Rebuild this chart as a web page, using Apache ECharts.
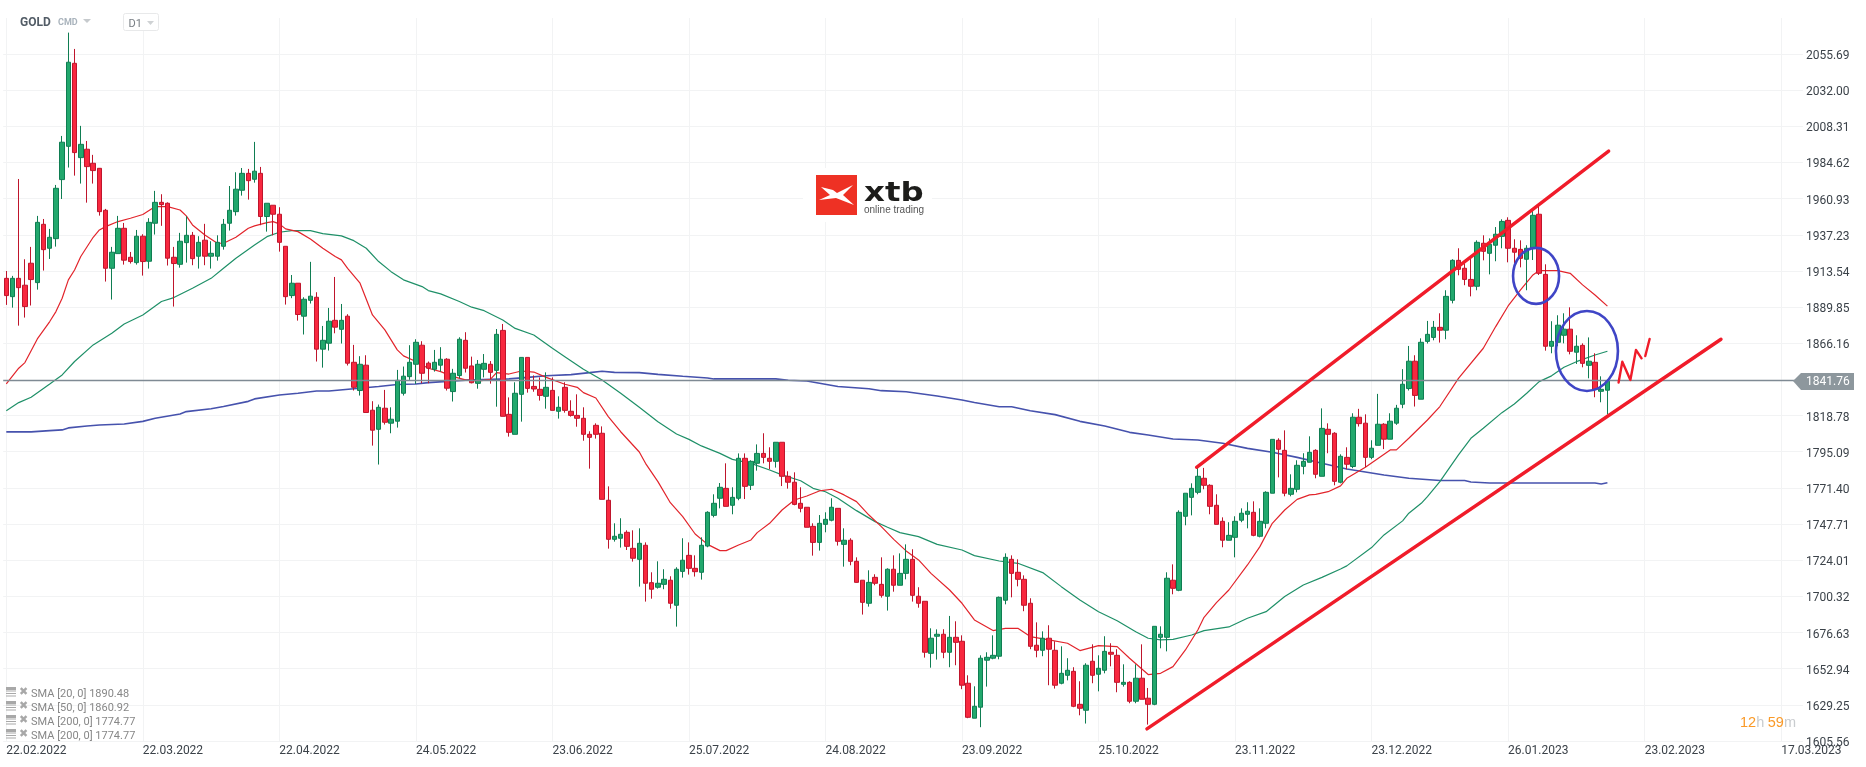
<!DOCTYPE html>
<html lang="en">
<head>
  <meta charset="UTF-8">
  <title>GOLD D1</title>
  <style>
    html, body { margin: 0; padding: 0; background: #fff; }
    #main { width: 1866px; height: 767px; }
  </style>
</head>
<body>
<div id="main"></div>
<script src="https://cdn.jsdelivr.net/npm/echarts@6/dist/echarts.min.js"></script>
<script>
  // date labels sit every 22 candles
  const dateLabels = ['22.02.2022','22.03.2022','22.04.2022','24.05.2022','23.06.2022','25.07.2022','24.08.2022',
    '23.09.2022','25.10.2022','23.11.2022','23.12.2022','26.01.2023','23.02.2023','17.03.2023'];
  const yTicks = [2055.69,2032.00,2008.31,1984.62,1960.93,1937.23,1913.54,1889.85,1866.16,1818.78,1795.09,
    1771.40,1747.71,1724.01,1700.32,1676.63,1652.94,1629.25,1605.56];
  const lastPrice = 1841.76;

  const opens = [1908.7,1896.7,1908.7,1904.2,1918.6,1905.9,1944.1,1928.4,1934.7,1973.4,
    1995.2,2049.6,1987.8,1993.3,1984.1,1980.8,1953.3,1915.3,1924.9,1941.5,
    1922.5,1919,1936.3,1919.9,1944.8,1958.5,1957.9,1922.5,1917.9,1932.1,
    1936.9,1923.2,1933.7,1923.2,1923.2,1929.7,1944.8,1952.4,1966.4,1977.5,
    1973.6,1977.5,1949.2,1956.6,1950.7,1929.7,1897.4,1905.5,1883.9,1894.3,
    1896.3,1862.3,1866.2,1881.2,1875.3,1883.9,1853.7,1835.2,1851.8,1822.3,
    1809.8,1823.6,1813.8,1815.1,1833.4,1844.3,1852.4,1864.9,1853.1,1849.1,
    1851.8,1855.7,1834.5,1845,1868.1,1851.3,1839.9,1849.1,1852.4,1848.4,
    1874.6,1819.6,1806.5,1832.7,1856.9,1837.9,1836,1831.4,1835.3,1821.6,
    1837.3,1821.6,1818.9,1817,1806.5,1812.4,1807.2,1763.3,1737.7,1738.4,
    1742.3,1731.8,1724.6,1733.8,1709.3,1706.3,1708.2,1710.9,1694.5,1716.7,
    1727.2,1718.7,1716.1,1733.3,1753.4,1764.6,1771.1,1760,1764.6,1790.8,
    1773.1,1787.5,1794,1790.8,1788.8,1801.3,1779,1775.1,1761.3,1758.7,
    1746.2,1735.7,1747.5,1750.2,1758,1734.4,1737.1,1723.3,1710.9,1695.8,
    1712.8,1708.2,1700.4,1718.1,1707.6,1715.4,1724.6,1700.4,1697.1,1663,
    1674.2,1675.5,1663.7,1673.5,1670.9,1643.4,1620.5,1627.7,1658.5,1659.8,
    1661.1,1697.8,1724.6,1716.1,1711.5,1695.8,1668.3,1665,1672.9,1665,
    1643.4,1648.6,1651.2,1629.6,1625.7,1657.8,1649.3,1651.9,1663.7,1661.7,
    1642.7,1644,1631.6,1646.7,1633.6,1629.6,1673.5,1673.5,1710.9,1704.3,
    1752.8,1765.2,1768.5,1777.7,1773.1,1760,1749.5,1737.1,1739,1750.2,
    1754.1,1755.4,1739.7,1748.2,1767.9,1802.6,1796,1767.2,1770.5,1785.5,
    1788.2,1796,1779,1809.8,1807.2,1775.1,1791.4,1785.4,1817.7,1813.8,
    1791.4,1799.3,1813.1,1803.3,1813.8,1826.2,1836.5,1854.4,1829.5,1867.4,
    1870,1876.6,1874.7,1894.3,1920.5,1915.3,1908,1903.5,1931.7,1925.1,
    1930.4,1936.2,1946.7,1928.4,1927.7,1921.2,1928.4,1950.7,1911.3,1864.2,
    1866.8,1871.4,1875.4,1860.3,1864.8,1851.7,1853.7,1834.7,1835.4];

  const closes = [1897.4,1908.7,1902.6,1890.2,1907.9,1945.4,1927.5,1935.6,1967.7,1997.9,
    2050.3,1991.1,1996.5,1981.9,1979.3,1952.4,1915.3,1925.8,1941.5,1920.6,
    1919.7,1936.3,1919.7,1945.4,1958.5,1957,1921.9,1918.4,1933,1936.9,
    1921.6,1932.3,1923.2,1925.1,1932.3,1944.1,1953.3,1967.1,1977.5,1972.7,
    1978.9,1949.2,1957.9,1950.7,1932.3,1896.7,1905.5,1885,1895,1897,
    1862.3,1868.1,1880.6,1876.7,1881.2,1853.1,1837.3,1852.4,1820.8,1809.2,
    1824.2,1814.4,1816.4,1841.9,1844.6,1853.7,1866.8,1846.5,1849.8,1853.7,
    1855.7,1836.7,1846.5,1868.8,1849.8,1840.3,1852.4,1853,1847.1,1872,
    1818.3,1807.8,1833.4,1856.9,1836.6,1836.2,1832,1837.3,1822.2,1824.2,
    1822.2,1818.9,1817,1806.5,1804.5,1806.5,1763.9,1737.7,1739.7,1741,
    1733.1,1725.3,1735.1,1708.9,1705,1708.9,1711.5,1695.8,1718.1,1724,
    1718.7,1716.5,1733.8,1755.4,1761.3,1771.8,1759.3,1765.2,1790.8,1772.4,
    1788.8,1794,1791.4,1788.8,1801.3,1779,1775.1,1760.6,1758,1745.6,
    1735.7,1748.2,1750.8,1758.7,1736.4,1737.1,1723.3,1709.5,1696.4,1709.5,
    1708.9,1701,1718.1,1707.6,1715.4,1724.6,1701,1695.8,1663.7,1672.9,
    1675.5,1663.7,1673.5,1670.2,1642.1,1621.1,1628.3,1659.8,1660.4,1661.7,
    1699.7,1725.9,1715.4,1711.5,1694.5,1667.6,1665,1672.9,1665.7,1642.1,
    1649.9,1651.9,1628.3,1627,1655.2,1648.6,1653.2,1664.3,1662.4,1644,
    1644,1631.6,1646.7,1632.9,1629.6,1680.7,1675.5,1712.2,1705.6,1755.4,
    1767.9,1771.1,1779,1773.1,1759.3,1747.5,1737.1,1740.3,1749.5,1754.8,
    1756.1,1740.3,1749.5,1768.5,1803.2,1796.7,1767.9,1771.1,1786.2,1788.8,
    1794.7,1780.3,1810.4,1806.5,1775.7,1792.1,1786.9,1817.7,1813.5,1791.4,
    1797.4,1813.1,1803.3,1815.1,1823.6,1839.3,1854.4,1832,1866.8,1872,
    1876.6,1874.7,1896.9,1920.5,1914.6,1908,1903.5,1932.3,1926.4,1931,
    1937.6,1946,1928.4,1925.8,1921.8,1928.4,1950,1912,1864.2,1867.4,
    1878,1875.4,1860.9,1864.2,1853,1854.4,1836,1836,1841.76];

  const highs = [1913.5,1910.3,1973.8,1921.2,1929.3,1949.6,1947.6,1941.1,1969.9,2002,
    2069.7,2059,2008.6,1998.7,1989.6,1981,1954.2,1929.3,1949.6,1945,
    1926,1940.4,1937.6,1948.1,1966,1963.8,1958.5,1929.3,1938.5,1949.4,
    1939.1,1936.3,1944.4,1933,1936.9,1947.6,1969.2,1978.2,1981,1980.4,
    1998.1,1981.7,1957.9,1956.6,1955.3,1929.7,1910.9,1905.5,1896.3,1919.5,
    1899.6,1877.5,1889.3,1909.6,1891.9,1885.2,1865.1,1857.7,1858.3,1828.2,
    1826,1835.6,1824.2,1848.7,1850.9,1864.9,1868.8,1867.5,1854.2,1861.8,
    1863.6,1856.4,1849.4,1870.1,1873.4,1857.4,1855.2,1859.1,1854.5,1875.5,
    1878.8,1830.7,1840.6,1856.9,1856.9,1845.1,1843.8,1847.1,1843.8,1831.4,
    1840.6,1828.8,1832.7,1824.2,1808.5,1813.7,1811.7,1772.4,1748.2,1751.5,
    1743.6,1743.6,1744.9,1735.7,1716.1,1723.3,1718.1,1713.5,1719.4,1738.4,
    1735.7,1727.2,1739,1756.1,1767.2,1774.6,1787.5,1771.8,1794,1794,
    1789.5,1799.9,1807.2,1798,1801.3,1801.3,1782.3,1781.6,1771.8,1758.7,
    1748.2,1753.6,1755.4,1764.6,1758,1744.9,1738.4,1725.9,1710.9,1717.4,
    1714.8,1725.9,1718.7,1727.2,1728.5,1734.4,1731.2,1706.3,1697.1,1679.4,
    1678.7,1678.8,1687.5,1684,1674.8,1648.6,1641.4,1661.7,1663.7,1674.8,
    1700.2,1728.5,1727.2,1724.6,1714.1,1699.1,1683.3,1677.4,1681.4,1670.9,
    1667.6,1659.8,1653.9,1644.7,1656.5,1668.9,1661.7,1674.2,1669.6,1665.7,
    1655.8,1644.7,1655.8,1668.9,1640.3,1680.7,1680.7,1716.1,1721.3,1756.7,
    1767.9,1774.4,1784.9,1784.5,1773.8,1767.2,1752.1,1748.9,1752.8,1758,
    1762,1762.6,1758,1769.2,1803.2,1803.9,1809.1,1780.3,1789.5,1794.1,
    1805.2,1796.7,1823.5,1813.7,1807.9,1793.4,1798,1820.3,1823.2,1819.6,
    1802.6,1833,1813.8,1820.3,1825.8,1849.2,1864.4,1858.3,1869.4,1880.8,
    1880.8,1885.8,1900.9,1921.2,1928.4,1918.6,1921.8,1933.6,1936.9,1934.9,
    1942.3,1947.4,1948.7,1934.3,1933.6,1930.4,1953.9,1957.9,1917.9,1880.6,
    1884.5,1885.8,1889.7,1871.4,1866.1,1870,1859.6,1844.5,1842.6];

  const lows = [1891.3,1889.5,1877.7,1883,1890.9,1901.3,1913.8,1921.4,1929.5,1960.7,
    1981.3,1976,1970.8,1958.3,1970.8,1949.8,1906.6,1894.8,1924.9,1917.7,
    1918.4,1917.7,1910.5,1915.1,1937.4,1943.1,1917.1,1890.2,1915.7,1919,
    1917.3,1915.1,1917.3,1915.1,1920.3,1927.5,1940,1949.8,1962.9,1960.3,
    1971.4,1943.5,1939.3,1936.9,1926.2,1891.5,1895.7,1881,1871.9,1892.2,
    1854.2,1850.2,1861.4,1872.7,1866,1851.6,1835.2,1831.9,1820.8,1799.1,
    1786.7,1812.9,1807.2,1810.9,1831.9,1842.2,1839.5,1840,1840,1847.6,
    1847.6,1835.2,1828,1843.3,1847,1839.9,1836.4,1843.8,1839.7,1824.6,
    1818.3,1805,1806.5,1814.8,1833.8,1834.4,1828.6,1823.3,1822.2,1816.8,
    1820.7,1818.1,1811.5,1802.3,1784,1803.7,1763.9,1731.6,1736.2,1732.3,
    1730.7,1723.1,1706.7,1696.9,1698.8,1705.4,1705,1692.3,1680.5,1712.6,
    1714.6,1713.3,1711.3,1732.5,1752.1,1758,1759.3,1754.1,1763.3,1764.1,
    1770,1782.7,1787.5,1783.6,1784.7,1772.6,1770.9,1760,1755.4,1745.6,
    1727,1730.3,1742.3,1749.5,1733.6,1719.8,1720.7,1709.3,1688.4,1693.6,
    1707.6,1699.5,1691,1703.4,1707.6,1711.5,1696.9,1692.9,1660.2,1653.6,
    1658.9,1659.8,1653.9,1655.2,1639.5,1620.5,1620.5,1614.6,1641.2,1659.1,
    1659.1,1695.1,1699.7,1706.9,1690.6,1665.7,1660.4,1661.1,1642.1,1639.9,
    1642.7,1645.3,1627.7,1622.4,1617,1643.4,1638.1,1649.9,1654.5,1637.5,
    1641.2,1630.3,1630.3,1632.9,1616.3,1629,1666.3,1664.3,1701.7,1703.7,
    1746.9,1753.4,1767.2,1770.5,1754.1,1747.5,1732.5,1737.1,1725.9,1748.9,
    1744.9,1739.7,1739,1744.9,1767.9,1778.3,1765.9,1765.9,1768.5,1780.3,
    1788.2,1777.7,1779,1794.1,1773.1,1774.4,1783.6,1784.3,1811.6,1785,
    1790.2,1799.3,1796.8,1803.3,1812.7,1823.6,1835.2,1824.7,1829.5,1866,
    1868.1,1866.6,1868.8,1892.3,1910.7,1904.2,1896.9,1900.9,1920.5,1911.3,
    1919.9,1928.4,1919.2,1918.6,1915.9,1900.9,1920.7,1910.9,1861.3,1859.6,
    1864.2,1866.1,1858.9,1852.6,1850.4,1843.2,1830.8,1827.5,1819.6];

  // moving averages, [candle index, price] read where the curve bends
  const sma20 = [[0,1839.5],[2,1849.8],[3,1853.5],[5,1869],[7,1880.4],[8,1886.9],[9,1895.7],[10,1907.7],[11,1914.2],[12,1923],
    [14,1935.6],[15,1940.4],[16,1942.6],[18,1945.9],[20,1948.1],[22,1950.5],[24,1955.7],[26,1955.7],[28,1953.5],[29,1949.6],
    [30,1943.7],[32,1937.1],[34,1931.7],[35,1931.7],[37,1935.6],[39,1941.5],[40,1943.1],[42,1945.2],[43,1945.9],[44,1944.4],
    [45,1941.1],[47,1939.3],[49,1934.5],[51,1928.4],[53,1923],[54,1920.8],[55,1915.3],[57,1905.5],[59,1884.7],[61,1874.9],
    [63,1861.8],[64,1857.9],[66,1854.2],[68,1849.8],[70,1847.6],[72,1844.3],[74,1842.2],[76,1841.4],[78,1842.5],[79,1846.9],
    [81,1846],[83,1848],[85,1847.3],[87,1843.8],[90,1839.3],[92,1837.3],[93,1833.8],[95,1830.3],[97,1818.1],[99,1808.2],
    [102,1794.9],[103,1787.5],[105,1775.5],[107,1761.7],[109,1752.6],[111,1741.2],[113,1734.4],[115,1730.3],[116,1730.3],[118,1734],
    [120,1737.3],[121,1742.1],[123,1748.2],[125,1756.9],[127,1763.5],[129,1766.1],[131,1769.4],[133,1770.5],[135,1766.8],[137,1762.4],
    [139,1753.6],[141,1746],[143,1737.7],[145,1730.1],[147,1724.2],[149,1715.4],[152,1704.5],[154,1695.8],[156,1684.9],[159,1677.9],
    [161,1679.4],[163,1679.4],[165,1674],[168,1671.8],[171,1669.6],[173,1664.8],[176,1668.1],[179,1667.4],[181,1659.8],[184,1649.1],
    [186,1649.9],[188,1654.3],[190,1665.2],[192,1678.3],[193,1686.6],[195,1696.2],[197,1704.5],[200,1720.9],[202,1732.9],[204,1748.2],
    [206,1756.9],[208,1763.9],[210,1766.8],[211,1767.2],[213,1768.9],[215,1772.7],[216,1777.7],[219,1784.9],[223,1796.3],[224,1796.3],
    [226,1803.9],[229,1815.9],[231,1824.7],[234,1843.2],[238,1862.9],[240,1877.1],[242,1890.6],[244,1901.1],[246,1910.9],[247,1913.8],
    [250,1913.8],[252,1912],[254,1904.4],[256,1897.8],[258,1890.48]];

  const sma50 = [[0,1822],[2,1827.3],[4,1830.8],[7,1839.5],[9,1845.4],[11,1854.2],[14,1865.1],[17,1872.7],[19,1878.8],[22,1884.7],
    [25,1893.5],[27,1896.1],[30,1902.2],[33,1908.7],[35,1915.3],[37,1921.9],[40,1930.6],[42,1936],[44,1938.9],[46,1940],
    [49,1940],[51,1938],[54,1936.5],[56,1933.4],[58,1928.4],[60,1919.7],[62,1913.1],[64,1907.7],[67,1903.3],[68,1900.7],
    [70,1898.5],[73,1893.5],[75,1889.8],[77,1887.5],[80,1881.4],[82,1875.9],[85,1871.6],[88,1862.9],[90,1857.4],[93,1849.1],
    [96,1842.1],[99,1833.4],[102,1824.2],[105,1814.8],[108,1806.7],[110,1803.2],[112,1798.9],[115,1794],[117,1790.1],[120,1787.5],
    [123,1783.1],[125,1779.9],[128,1776.1],[130,1771.1],[132,1768.9],[134,1764.6],[137,1756.5],[140,1749.3],[142,1745.6],[144,1742.1],
    [147,1739.5],[150,1734.4],[154,1730.7],[156,1727],[160,1723.5],[163,1722],[167,1715.9],[170,1706.7],[173,1698],[176,1690.3],
    [179,1684.4],[182,1677.2],[184,1672.9],[186,1671.8],[188,1672.2],[191,1675],[193,1677.9],[197,1680.3],[200,1686],[203,1690.3],
    [206,1700.2],[209,1707.8],[212,1712.8],[215,1718.3],[216,1720.3],[220,1732.3],[222,1740.6],[225,1749.8],[226,1754.8],[228,1761.3],
    [229,1765.7],[231,1775.5],[234,1793],[236,1803.9],[238,1810.5],[241,1820.7],[243,1826.4],[245,1833.4],[247,1841],[249,1844.8],
    [251,1850.4],[253,1854.1],[256,1858.5],[258,1860.92]];

  const sma200 = [[0,1808.1],[4,1808.1],[7,1808.9],[9,1809.4],[10,1810.7],[13,1812],[15,1812.6],[19,1813.3],[22,1815],[24,1817],
    [28,1819.8],[29,1821.4],[33,1823.3],[35,1824.7],[39,1828.1],[40,1829.7],[44,1832.3],[47,1833.4],[50,1834.9],[52,1834.9],
    [56,1836.4],[60,1837.8],[63,1839.1],[66,1839.5],[68,1840.4],[74,1842],[81,1842.8],[84,1843.8],[87,1844.9],[91,1845.6],
    [94,1846.9],[96,1847.8],[98,1847.1],[102,1846.9],[105,1845.8],[109,1844.5],[113,1843.4],[114,1842.8],[118,1842.8],[124,1842.8],
    [126,1841.9],[129,1841.4],[134,1837.8],[139,1836.4],[141,1835.1],[145,1834.4],[150,1831.6],[154,1829],[156,1827.3],[160,1824.6],
    [162,1824.6],[165,1822],[169,1819.4],[173,1815],[177,1812],[181,1807.8],[184,1806.1],[188,1803.4],[192,1802.8],[196,1800.6],
    [200,1797.3],[204,1794.7],[208,1791.4],[212,1787.5],[216,1783.8],[222,1779.9],[226,1777.7],[231,1776.2],[235,1776.2],[236,1775.3],
    [239,1774.6],[247,1774.6],[256,1774.6],[257,1774],[258,1774.77]];

  // hand drawn annotations, in candle index and price
  const channelTop = [[191.8,1784.9],[258.2,1992.1]];
  const channelBottom = [[183.8,1613.5],[276.3,1868.8]];
  const scribbleA = [[259.8,1840.4],[260.4,1854.1],[261.7,1842.1],[262.6,1861.8],[263.5,1856.3]];
  const scribbleB = [[264.1,1857.8],[264.8,1869]];
  const circleCentres = [[246.5,1910.3],[254.7,1861.1]];
  const circleRadii = [[23,28],[31,40]];

  const legendRows = ['SMA [20, 0] 1890.48','SMA [50, 0] 1860.92','SMA [200, 0] 1774.77','SMA [200, 0] 1774.77'];

  const categoryCount = 290;
  const categories = [];
  for (let i = 0; i < categoryCount; i++) categories.push(i % 22 === 0 ? dateLabels[i / 22] : '');
  const candles = opens.map((o, i) => [o, closes[i], lows[i], highs[i]]);

  const chart = echarts.init(document.getElementById('main'));
  const fontUi = 'Roboto';

  function overlayLine(data, width) {
    return { type: 'line', xAxisIndex: 1, data, symbol: 'none', z: 5, silent: true,
      lineStyle: { color: '#f01c2a', width, cap: 'round', join: 'round' } };
  }
  function sma(data, color, width) {
    return { type: 'line', xAxisIndex: 1, data, symbol: 'none', z: 1, silent: true, lineStyle: { color, width } };
  }

  // small bits of platform chrome around the plot
  function text(x, y, str, fontSize, fill, extra) {
    return { type: 'text', x, y, z: 20, silent: true,
      style: Object.assign({ text: str, fontFamily: fontUi, fontSize, fill, verticalAlign: 'middle' }, extra || {}) };
  }
  function tri(x, y, w, h, fill) {
    return { type: 'polygon', z: 20, silent: true, shape: { points: [[x, y], [x + w, y], [x + w / 2, y + h]] }, style: { fill } };
  }
  const graphics = [
    text(20, 23, 'GOLD', 12, '#525c66', { fontWeight: 'bold' }),
    text(58, 23, 'CMD', 9, '#a9b3bc', { fontWeight: 'bold' }),
    tri(83, 19, 8, 4, '#c6cacd'),
    { type: 'rect', z: 19, silent: true, shape: { x: 123.5, y: 13.5, width: 35, height: 17, r: 2 }, style: { fill: '#fff', stroke: '#e8e9ea' } },
    text(128.5, 24, 'D1', 11, '#777d83'),
    tri(147, 21, 7, 4, '#cfd2d4'),
    // xtb logo
    { type: 'rect', z: 19, silent: true, shape: { x: 803, y: 168, width: 129, height: 54 }, style: { fill: '#fff' } },
    { type: 'rect', z: 20, silent: true, shape: { x: 816, y: 175, width: 41, height: 40 }, style: { fill: '#ee3124' } },
    { type: 'polygon', z: 21, silent: true, shape: { points: [[821, 187], [833, 190], [837, 193], [853, 185], [843, 195], [854, 205], [836, 198], [819, 200], [830, 195]] }, style: { fill: '#fff' } },
    { type: 'text', x: 864, y: 207, z: 20, silent: true, scaleX: 1.2, style: { text: 'xtb', fontFamily: 'DejaVu Sans', fontWeight: 'bold', fontSize: 27, fill: '#1d1d1b', verticalAlign: 'bottom' } },
    text(864, 210, 'online trading', 10, '#555', { fontFamily: 'Liberation Sans' }),
    // last price tag
    { type: 'polygon', z: 20, silent: true, shape: { points: [[1793, 381], [1801, 373], [1854, 373], [1854, 390], [1801, 390]] }, style: { fill: '#8d979d' } },
    text(1806, 382, lastPrice.toFixed(2), 12, '#fff'),
    // candle countdown
    { type: 'text', x: 1740, y: 723, z: 20, silent: true, style: {
      text: '{o|12}{g|h} {o|59}{g|m}', fontFamily: fontUi, fontSize: 14.5, verticalAlign: 'middle',
      rich: { o: { fill: '#fa9a28', fontSize: 14.5, fontWeight: 500 }, g: { fill: '#c9cccf', fontSize: 14.5 } } } }
  ];
  legendRows.forEach((row, i) => {
    const y = 694 + i * 14;
    [[-7, 3], [-3.5, 1], [-1, 1], [1.5, 1]].forEach(bar => {
      graphics.push({ type: 'rect', z: 20, silent: true, shape: { x: 6, y: y + bar[0], width: 10, height: bar[1] }, style: { fill: '#a8a8a8' } });
    });
    graphics.push(text(19, y - 2, '✖', 11, '#a8a8a8', { fontFamily: 'DejaVu Sans' }));
    graphics.push(text(31, y, row, 11, '#878787'));
  });

  chart.setOption({
    animation: false,
    backgroundColor: '#fff',
    grid: { left: 3.2, top: 18, width: 1799.7, height: 723, containLabel: false },
    xAxis: [{
      type: 'category',
      data: categories,
      boundaryGap: true,
      axisLine: { show: false },
      axisTick: { show: false },
      axisLabel: {
        interval: i => i % 22 === 0,
        align: 'left',
        margin: 4,
        color: '#3b4249',
        fontFamily: fontUi,
        fontSize: 12
      },
      splitLine: { show: true, alignWithLabel: true, interval: i => i % 22 === 0, lineStyle: { color: '#f2f3f4', width: 1 } }
    }, {
      type: 'value', min: -0.5, max: categoryCount - 0.5, show: false, splitLine: { show: false }
    }],
    yAxis: {
      type: 'value',
      position: 'right',
      min: 1605.56,
      max: 2079.28,
      axisLine: { show: false },
      axisTick: { show: false, customValues: yTicks },
      axisLabel: {
        customValues: yTicks,
        formatter: v => '{a|' + v.toFixed(2) + '}',
        margin: 3,
        color: '#3b4249',
        fontFamily: fontUi,
        fontSize: 12,
        rich: { a: { padding: [4, 0, 0, 0], color: '#3b4249', fontFamily: fontUi, fontSize: 12 } }
      },
      splitLine: { show: true, lineStyle: { color: '#f2f3f4', width: 1 } }
    },
    graphic: graphics,
    series: [
      sma(sma200, '#4652ad', 1.6),
      sma(sma50, '#1f9068', 1.2),
      sma(sma20, '#e2242b', 1.2),
      {
        type: 'candlestick',
        data: candles,
        barWidth: 5,
        z: 2,
        silent: true,
        itemStyle: { color: '#22a86d', color0: '#f8283f', borderColor: '#0f7d52', borderColor0: '#bf152c', borderWidth: 1 },
        markLine: {
          silent: true, symbol: 'none', z: 3, label: { show: false },
          lineStyle: { color: '#7f8a94', width: 1.4, type: 'solid' },
          data: [{ yAxis: lastPrice }]
        }
      },
      overlayLine(channelTop, 3.4),
      overlayLine(channelBottom, 3.4),
      overlayLine(scribbleA, 2.4),
      overlayLine(scribbleB, 2.4),
      {
        type: 'custom',
        xAxisIndex: 1,
        z: 6,
        silent: true,
        encode: { x: 0, y: 1 },
        data: circleCentres,
        renderItem: (params, api) => {
          const c = api.coord([api.value(0), api.value(1)]);
          const r = circleRadii[params.dataIndex];
          return { type: 'ellipse', shape: { cx: c[0], cy: c[1], rx: r[0], ry: r[1] },
            style: { fill: 'transparent', stroke: '#3f45c6', lineWidth: 2.6 } };
        }
      }
    ]
  });
</script>
</body>
</html>
